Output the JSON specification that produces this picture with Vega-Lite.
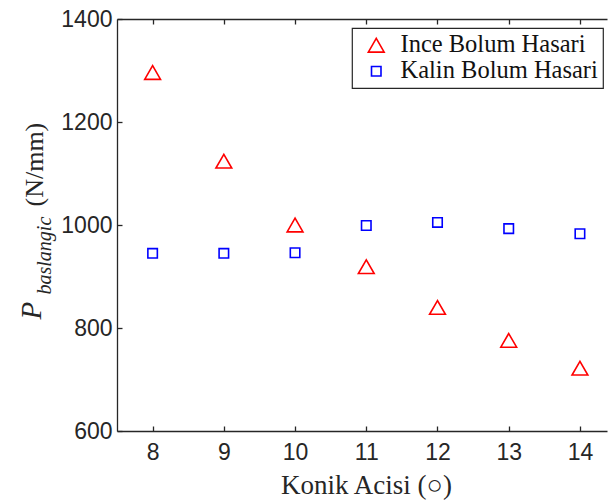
{
  "$schema": "https://vega.github.io/schema/vega-lite/v6.json",
  "width": 490,
  "height": 412,
  "autosize": "none",
  "padding": {"left": 117, "top": 19, "right": 1, "bottom": 71},
  "background": "white",
  "config": {
    "view": {"stroke": null},
    "axis": {
      "grid": false,
      "domainColor": "#262626",
      "domainWidth": 1.3,
      "tickColor": "#262626",
      "tickWidth": 1.3,
      "tickSize": -5,
      "labelFont": "Liberation Sans",
      "labelFontSize": 23,
      "labelColor": "#262626",
      "titleFont": "Liberation Serif",
      "titleFontWeight": "normal",
      "titleColor": "#262626"
    },
    "legend": {
      "orient": "none",
      "legendX": 235,
      "legendY": 9,
      "strokeColor": "#262626",
      "strokeWidth": 1.2,
      "fillColor": "white",
      "padding": 5,
      "labelFont": "Liberation Serif",
      "labelFontSize": 24.5,
      "labelColor": "#111111",
      "labelLimit": 400,
      "symbolStrokeWidth": 1.6,
      "symbolOffset": 7,
      "labelOffset": 12,
      "rowPadding": 1
    }
  },
  "data": {
    "values": [
      {"angle": 8, "P": 1296, "series": "Ince Bolum Hasari"},
      {"angle": 9, "P": 1124, "series": "Ince Bolum Hasari"},
      {"angle": 10, "P": 1000, "series": "Ince Bolum Hasari"},
      {"angle": 11, "P": 919, "series": "Ince Bolum Hasari"},
      {"angle": 12, "P": 840, "series": "Ince Bolum Hasari"},
      {"angle": 13, "P": 776, "series": "Ince Bolum Hasari"},
      {"angle": 14, "P": 722, "series": "Ince Bolum Hasari"},
      {"angle": 8, "P": 945, "series": "Kalin Bolum Hasari"},
      {"angle": 9, "P": 945, "series": "Kalin Bolum Hasari"},
      {"angle": 10, "P": 946, "series": "Kalin Bolum Hasari"},
      {"angle": 11, "P": 999, "series": "Kalin Bolum Hasari"},
      {"angle": 12, "P": 1005, "series": "Kalin Bolum Hasari"},
      {"angle": 13, "P": 993, "series": "Kalin Bolum Hasari"},
      {"angle": 14, "P": 983, "series": "Kalin Bolum Hasari"}
    ]
  },
  "layer": [
    {
      "mark": {"type": "point", "filled": false, "strokeWidth": 1.6, "opacity": 1},
      "encoding": {
        "x": {
          "field": "angle", "type": "quantitative",
          "scale": {"domain": [7.5, 14.38], "nice": false, "zero": false},
          "axis": {
            "orient": "bottom",
            "values": [8, 9, 10, 11, 12, 13, 14],
            "labelPadding": 15,
            "title": "Konik Acisi (○)",
            "titleFontSize": 27,
            "titleBaseline": "alphabetic",
            "titleAlign": "center",
            "titleX": 249,
            "titleY": 62
          }
        },
        "y": {
          "field": "P", "type": "quantitative",
          "scale": {"domain": [600, 1400], "nice": false, "zero": false},
          "axis": {
            "orient": "left",
            "values": [600, 800, 1000, 1200, 1400],
            "format": "d",
            "labelPadding": 10,
            "title": "(N/mm)",
            "titleFontSize": 26,
            "titleAngle": 270,
            "titleAlign": "left",
            "titleBaseline": "alphabetic",
            "titleX": -75,
            "titleY": 187
          }
        },
        "color": {
          "field": "series", "type": "nominal",
          "scale": {"domain": ["Ince Bolum Hasari", "Kalin Bolum Hasari"], "range": ["#ff0000", "#0000ff"]},
          "legend": {"title": null}
        },
        "shape": {
          "field": "series", "type": "nominal",
          "scale": {"domain": ["Ince Bolum Hasari", "Kalin Bolum Hasari"], "range": ["triangle-up", "square"]},
          "legend": {"title": null}
        },
        "size": {
          "field": "series", "type": "nominal",
          "scale": {"domain": ["Ince Bolum Hasari", "Kalin Bolum Hasari"], "range": [250, 90]},
          "legend": {"title": null}
        }
      }
    },
    {
      "mark": {"type": "point", "opacity": 0},
      "encoding": {
        "x": {
          "field": "angle", "type": "quantitative",
          "scale": {"domain": [7.5, 14.38], "nice": false, "zero": false},
          "axis": {"orient": "top", "values": [8, 9, 10, 11, 12, 13, 14], "labels": false, "title": null}
        },
        "y": {
          "field": "P", "type": "quantitative",
          "scale": {"domain": [600, 1400], "nice": false, "zero": false},
          "axis": {
            "orient": "left", "labels": false, "ticks": false, "domain": false,
            "title": "P",
            "titleFontSize": 29,
            "titleFontStyle": "italic",
            "titleAngle": 270,
            "titleAlign": "left",
            "titleBaseline": "alphabetic",
            "titleX": -77,
            "titleY": 300
          }
        }
      }
    },
    {
      "mark": {"type": "point", "opacity": 0},
      "encoding": {
        "x": {
          "field": "angle", "type": "quantitative",
          "scale": {"domain": [7.5, 14.38], "nice": false, "zero": false},
          "axis": null
        },
        "y": {
          "field": "P", "type": "quantitative",
          "scale": {"domain": [600, 1400], "nice": false, "zero": false},
          "axis": {
            "orient": "left", "labels": false, "ticks": false, "domain": false,
            "title": "baslangic",
            "titleFontSize": 20,
            "titleFontStyle": "italic",
            "titleAngle": 270,
            "titleAlign": "left",
            "titleBaseline": "alphabetic",
            "titleX": -67,
            "titleY": 275
          }
        }
      }
    }
  ],
  "resolve": {"axis": {"x": "independent", "y": "independent"}}
}
